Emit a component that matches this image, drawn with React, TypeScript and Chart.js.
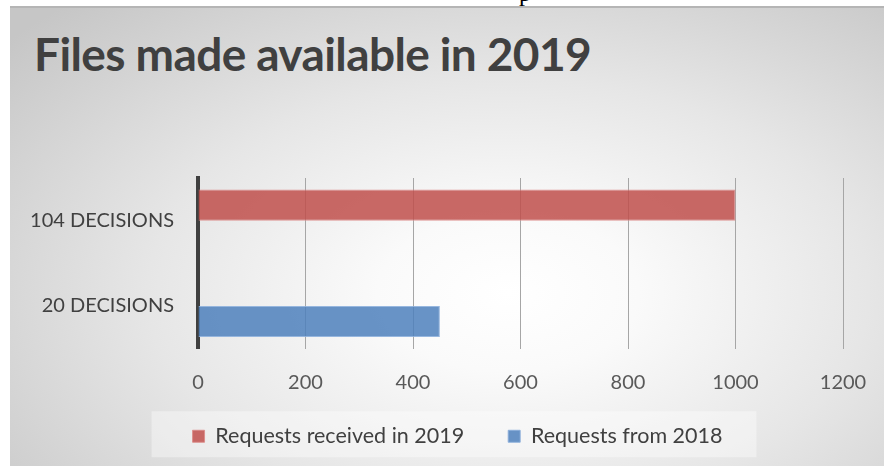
import React, { useEffect, useRef } from "react";
import { Chart, registerables } from "chart.js";

Chart.register(...registerables);

const titleText = "Files made available in 2019";
const categories = ["104 DECISIONS", "20 DECISIONS"];
const seriesLabels = ["Requests received in 2019", "Requests from 2018"];
const received2019: (number | null)[] = [1000, null];
const from2018: (number | null)[] = [null, 450];
const xTicks = [0, 200, 400, 600, 800, 1000, 1200];

const FONT = "Lato, 'Open Sans', sans-serif";
const LEGEND_PAD = 44;
const LEGEND_FONT = 21.5;

const legendTweak = {
  id: "legendTweak",
  afterUpdate(chart: any) {
    const lg = chart.legend;
    if (!lg) return;
    lg.left += 31;
    lg.right += 31;
    lg.top -= 9;
    lg.bottom -= 9;
  },
  beforeDraw(chart: any) {
    const lg = chart.legend;
    if (!lg || !lg.lineWidths) return;
    const lw = lg.lineWidths[0];
    const start = (lg.left + LEGEND_PAD + lg.right - lw) / 2;
    const end = start + lw - LEGEND_PAD;
    const cy = lg.top + LEGEND_PAD + LEGEND_FONT / 2;
    const ctx = chart.ctx;
    ctx.save();
    ctx.fillStyle = "rgba(255,255,255,0.38)";
    ctx.fillRect(start - 41, cy - 25, end - start + 41 + 34, 46);
    ctx.restore();
  },
};

export default function App() {
  const ref = useRef<HTMLCanvasElement>(null);

  useEffect(() => {
    const chart = new Chart(ref.current!, {
      type: "bar",
      data: {
        labels: categories,
        datasets: [
          {
            label: seriesLabels[0],
            data: received2019,
            backgroundColor: "rgba(192,80,77,0.86)",
            borderColor: "rgba(220,140,138,0.9)",
            borderWidth: 1,
          },
          {
            label: seriesLabels[1],
            data: from2018,
            backgroundColor: "rgba(79,129,189,0.86)",
            borderColor: "rgba(140,175,220,0.9)",
            borderWidth: 1,
          },
        ],
      },
      options: {
        indexAxis: "y",
        animation: false,
        responsive: true,
        maintainAspectRatio: false,
        categoryPercentage: 0.73,
        barPercentage: 1,
        layout: { padding: { left: 0, right: 41, top: 170, bottom: 0 } },
        plugins: {
          title: { display: false },
          tooltip: { enabled: false },
          legend: {
            position: "bottom",
            labels: {
              boxWidth: 12,
              boxHeight: 12,
              padding: LEGEND_PAD,
              color: "#404040",
              font: { family: FONT, size: LEGEND_FONT },
            },
          },
        },
        scales: {
          x: {
            min: xTicks[0],
            max: xTicks[xTicks.length - 1],
            afterFit: (s: any) => {
              s.height = 42;
              s.paddingLeft = 0;
              s.paddingRight = 0;
            },
            ticks: {
              stepSize: xTicks[1] - xTicks[0],
              padding: 22,
              color: "#595959",
              font: { family: FONT, size: 20 },
              callback: (v: any) => String(v),
            },
            grid: { color: "#a6a6a6", lineWidth: 1, drawTicks: false },
            border: { display: false },
          },
          y: {
            afterFit: (s: any) => {
              s.width = 188;
              s.paddingTop = 0;
              s.paddingBottom = 0;
            },
            ticks: {
              padding: 24,
              color: "#404040",
              font: { family: FONT, size: 20 },
            },
            grid: { display: false, drawTicks: false },
            border: { display: true, color: "#404040", width: 4 },
          },
        },
      },
      plugins: [legendTweak],
    });
    return () => chart.destroy();
  }, []);

  return (
    <div
      style={{
        position: "fixed",
        left: 0,
        top: 0,
        width: 884,
        height: 466,
        background: "#ffffff",
        overflow: "hidden",
      }}
    >
      <span
        style={{
          position: "absolute",
          left: 519,
          top: -19,
          fontFamily: "'Liberation Serif', serif",
          fontSize: 24,
          lineHeight: "24px",
          color: "#000",
        }}
      >
        p
      </span>
      <div
        style={{
          position: "absolute",
          left: 10,
          top: 6,
          width: 874,
          height: 460,
          borderTop: "2px solid #b5b5b5",
          background:
            "radial-gradient(ellipse 75% 85% at 57% 62%, #ffffff 0%, #fafafa 20%, #e6e6e6 55%, #c6c6c6 100%)",
        }}
      >
        <div
          style={{
            position: "absolute",
            left: 24,
            top: 23,
            fontFamily: FONT,
            fontWeight: 700,
            fontSize: 46,
            lineHeight: 1,
            color: "#404040",
            whiteSpace: "nowrap",
            letterSpacing: -0.6,
          }}
        >
          {titleText}
        </div>
        <div style={{ position: "absolute", left: 0, top: 0, width: 874, height: 458 }}>
          <canvas ref={ref} />
        </div>
      </div>
    </div>
  );
}
